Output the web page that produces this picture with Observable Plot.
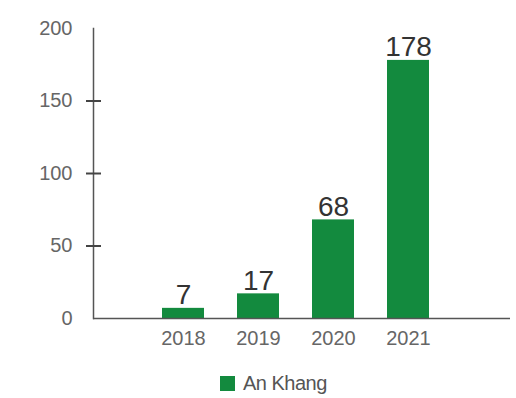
<!DOCTYPE html>
<html>
<head>
<meta charset="utf-8">
<script src="https://cdn.jsdelivr.net/npm/d3@7"></script>
<script src="https://cdn.jsdelivr.net/npm/@observablehq/plot@0.6"></script>
<style>
  html, body { margin: 0; padding: 0; background: #fff; }
  body { width: 516px; height: 398px; overflow: hidden; font-family: "Liberation Sans", Arial, sans-serif; }
  #legend { display: flex; align-items: center; margin-left: 220px; margin-top: 12px; font-size: 20px; color: #555; letter-spacing: -0.5px; }
  #legend .sw { width: 15px; height: 15px; background: #138a3e; margin-right: 8px; }
</style>
</head>
<body>
<div id="chart"></div>
<div id="legend"><span class="sw"></span><span id="legend-label"></span></div>
<script>
const years = ["2018", "2019", "2020", "2021"];
const values = [7, 17, 68, 178];
const yTicks = [0, 50, 100, 150, 200];
const yTickMarks = [50, 100, 150];
const seriesName = "An Khang";

const data = years.map((y, i) => ({year: y, value: values[i]}));

const chart = Plot.plot({
  width: 516,
  height: 360,
  marginLeft: 93,
  marginRight: 6,
  marginTop: 28,
  marginBottom: 42,
  style: {fontFamily: "Liberation Sans, Arial, sans-serif", background: "#fff"},
  x: {domain: years, range: [145.5, 445.5], paddingInner: 0.44, paddingOuter: 0.22},
  y: {domain: [0, 200]},
  marks: [
    Plot.barY(data, {x: "year", y: "value", fill: "#138a3e"}),
    Plot.text(data, {x: "year", y: "value", text: d => String(d.value), lineAnchor: "bottom", dy: -4, fontSize: 28, fill: "#333", style: "letter-spacing:-1px"}),
    Plot.frame({anchor: "left", stroke: "#555", strokeWidth: 1.5}),
    Plot.ruleY([0], {stroke: "#555", strokeWidth: 1.5}),
    Plot.tickY(yTickMarks, {y: d => d, x: () => years[0], dx: -76, insetRight: 27, stroke: "#444", strokeWidth: 2}),
    Plot.axisY({ticks: yTicks, tickSize: 0, tickPadding: 21, fontSize: 20, fill: "#666", label: null, style: "letter-spacing:-1px"}),
    Plot.axisX({tickSize: 0, tickPadding: 12, fontSize: 20, fill: "#666", label: null, style: "letter-spacing:-1px"})
  ]
});
document.getElementById("chart").appendChild(chart);
document.getElementById("legend-label").textContent = seriesName;
</script>
</body>
</html>
